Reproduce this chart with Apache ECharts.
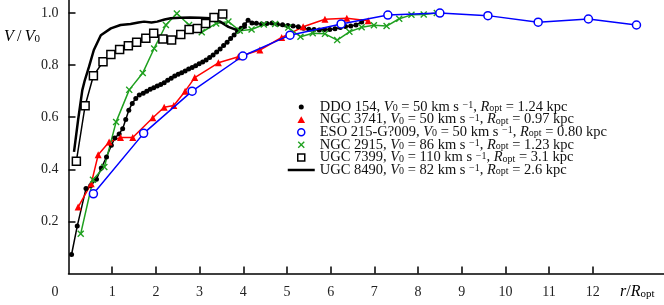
<!DOCTYPE html>
<html>
<head>
<meta charset="utf-8">
<script src="https://cdn.jsdelivr.net/npm/echarts@6/dist/echarts.min.js"></script>
<style>
html,body{margin:0;padding:0;background:#fff;}
#c{width:664px;height:305px;}
</style>
</head>
<body>
<div id="c"></div>
<script>
// ---- data (x = r/Ropt, y = V/V0) ----
const ddo154 = [[0.07,0.073],[0.2,0.182],[0.4,0.326],[0.51,0.338],[0.64,0.362],[0.75,0.405],[0.87,0.447],[0.98,0.492],[1.06,0.52],[1.16,0.536],[1.24,0.556],[1.31,0.591],[1.38,0.627],[1.46,0.653],[1.54,0.672],[1.62,0.685],[1.71,0.692],[1.79,0.7],[1.87,0.707],[1.95,0.713],[2.03,0.72],[2.11,0.726],[2.19,0.732],[2.27,0.742],[2.35,0.75],[2.43,0.758],[2.51,0.765],[2.59,0.771],[2.67,0.777],[2.75,0.785],[2.83,0.791],[2.91,0.798],[2.99,0.805],[3.07,0.812],[3.15,0.82],[3.23,0.829],[3.31,0.839],[3.39,0.85],[3.47,0.862],[3.55,0.875],[3.63,0.888],[3.71,0.902],[3.79,0.916],[3.87,0.93],[3.95,0.942],[4.03,0.955],[4.11,0.972],[4.2,0.962],[4.3,0.961],[4.42,0.958],[4.54,0.96],[4.66,0.962],[4.78,0.957],[4.9,0.955],[5.02,0.952],[5.14,0.95],[5.26,0.947],[5.38,0.942],[5.5,0.938],[5.62,0.937],[5.74,0.935],[5.86,0.937],[5.98,0.937],[6.1,0.94],[6.22,0.944],[6.34,0.948],[6.46,0.95],[6.58,0.954],[6.71,0.966]];
const ngc3741 = [[0.22,0.255],[0.52,0.345],[0.68,0.456],[0.93,0.505],[1.19,0.522],[1.47,0.522],[1.93,0.598],[2.19,0.638],[2.41,0.645],[2.67,0.7],[2.89,0.752],[3.43,0.809],[3.89,0.832],[4.38,0.858],[4.88,0.906],[5.37,0.947],[5.87,0.976],[6.37,0.98],[6.86,0.97]];
const eso215 = [[0.57,0.306],[1.72,0.538],[2.83,0.7],[3.99,0.835],[5.07,0.915],[6.24,0.958],[7.31,0.992],[8.5,1.0],[9.6,0.99],[10.75,0.965],[11.9,0.977],[13.0,0.954]];
const ngc2915 = [[0.28,0.153],[0.56,0.36],[0.82,0.409],[1.09,0.582],[1.39,0.705],[1.7,0.77],[1.96,0.864],[2.23,0.954],[2.48,0.998],[2.76,0.954],[3.05,0.926],[3.38,0.96],[3.66,0.967],[3.92,0.932],[4.19,0.937],[4.47,0.956],[4.73,0.958],[5.03,0.944],[5.31,0.909],[5.59,0.922],[5.87,0.92],[6.15,0.896],[6.43,0.928],[6.71,0.945],[6.99,0.953],[7.28,0.95],[7.57,0.978],[7.85,0.993],[8.13,0.994],[8.43,1.0]];
const ugc7399 = [[0.18,0.431],[0.38,0.644],[0.57,0.759],[0.79,0.813],[0.97,0.841],[1.17,0.86],[1.37,0.874],[1.56,0.888],[1.77,0.903],[1.95,0.922],[2.16,0.9],[2.36,0.896],[2.57,0.918],[2.76,0.937],[2.95,0.941],[3.14,0.96],[3.33,0.983],[3.53,0.996]];
const ugc8490 = [[0.126,0.467],[0.22,0.59],[0.316,0.704],[0.37,0.74],[0.47,0.794],[0.58,0.858],[0.74,0.915],[0.97,0.941],[1.19,0.954],[1.42,0.958],[1.6,0.964],[1.73,0.967],[1.9,0.964],[2.03,0.967],[2.2,0.975],[2.34,0.98],[2.55,0.982],[2.78,0.983],[3.0,0.982],[3.24,0.98],[3.47,0.967],[3.66,0.947],[3.81,0.937],[3.95,0.94],[4.08,0.946]];

const names = ['DDO 154','NGC 3741','ESO 215-G?009','NGC 2915','UGC 7399','UGC 8490'];
const v0s = ['50','50','50','86','110','82'];
const ropts = ['1.24','0.97','0.80','1.23','3.1','2.6'];
const xTicks = [1,2,3,4,5,6,7,8,9,10,11,12];
const xLabels = [0,1,2,3,4,5,6,7,8,9,10,11,12];
const yTicks = [0.2,0.4,0.6,0.8,1.0];

// ---- styling ----
const SERIF = 'Liberation Serif';
const TXT = '#111';
const RED = '#ff0000', BLUE = '#0000ff', GREEN = '#1fa01f', BLACK = '#000';
const crossPath = 'path://M0,1.4L1.4,0L5,3.6L8.6,0L10,1.4L6.4,5L10,8.6L8.6,10L5,6.4L1.4,10L0,8.6L3.6,5Z';

// legend icons drawn inside a fixed 27x8 frame (corner moves fix the frame)
const FR = 'M0,0M27,8';
const lgDot = 'path://' + FR + 'M16,4A2.5,2.5,0,1,1,11,4A2.5,2.5,0,1,1,16,4Z';
const lgTri = 'path://' + FR + 'M13.5,0.7L17.3,7.3L9.7,7.3Z';
const lgCirc = 'path://' + FR + 'M17,4A3.5,3.5,0,1,1,10,4A3.5,3.5,0,1,1,17,4Z';
const lgCross = 'path://' + FR + 'M10,1.48L10.98,0.5L13.5,3.02L16.02,0.5L17,1.48L14.48,4L17,6.52L16.02,7.5L13.5,4.98L10.98,7.5L10,6.52L12.52,4Z';
const lgSq = 'path://' + FR + 'M10,0.5L17,0.5L17,7.5L10,7.5Z';
const lgLine = 'path://' + FR + 'M0,2.75L27,2.75L27,5.25L0,5.25Z';

const FS = 14.5;
const rich = {
  n:{fontFamily:SERIF,fontSize:FS,lineHeight:13,color:TXT},
  i:{fontFamily:SERIF,fontSize:FS,lineHeight:13,color:TXT,fontStyle:'italic'},
  sb:{fontFamily:SERIF,fontSize:10,lineHeight:6,color:TXT,verticalAlign:'bottom'},
  sp:{fontFamily:SERIF,fontSize:10,lineHeight:6,color:TXT,verticalAlign:'top'}
};
const richAx = {
  n:{fontFamily:SERIF,fontSize:16,lineHeight:15,color:TXT},
  i:{fontFamily:SERIF,fontSize:16,lineHeight:15,color:TXT,fontStyle:'italic'},
  sb:{fontFamily:SERIF,fontSize:11,lineHeight:7,color:TXT,verticalAlign:'bottom'}
};
function legendText(name){
  const k = names.indexOf(name);
  return '{n|' + names[k] + ', }{i|V}{sb|0}{n| = ' + v0s[k] + ' km s }{sp|\u22121}{n|, }{i|R}{sb|opt}{n| = ' + ropts[k] + ' kpc}';
}
const legendData = [
  {name:names[0], icon:lgDot, itemStyle:{color:BLACK,borderWidth:0}},
  {name:names[1], icon:lgTri, itemStyle:{color:RED,borderWidth:0}},
  {name:names[2], icon:lgCirc, itemStyle:{color:'#fff',borderColor:BLUE,borderWidth:1.5}},
  {name:names[3], icon:lgCross, itemStyle:{color:GREEN,borderWidth:0}},
  {name:names[4], icon:lgSq, itemStyle:{color:'#fff',borderColor:BLACK,borderWidth:1.5}},
  {name:names[5], icon:lgLine, itemStyle:{color:BLACK,borderWidth:0}}
];

const chart = echarts.init(document.getElementById('c'), null, {renderer:'canvas'});
chart.setOption({
  animation:false,
  backgroundColor:'#fff',
  grid:{left:68.5,right:0,top:0,bottom:31.5,containLabel:false},
  legend:{
    show:true, selectedMode:false, orient:'vertical', align:'left', padding:0,
    left:287, top:99.5, itemGap:-2.4, itemWidth:27, itemHeight:8, symbolKeepAspect:true,
    data:legendData,
    formatter:legendText,
    textStyle:{fontFamily:SERIF,fontSize:FS,color:TXT,rich:rich}
  },
  xAxis:{
    type:'value', min:0, max:13.63,
    axisLine:{show:true,lineStyle:{color:BLACK,width:1.5}},
    axisTick:{show:true,inside:true,length:7,lineStyle:{color:BLACK,width:1.5},customValues:xTicks},
    axisLabel:{customValues:xLabels,margin:12,fontFamily:SERIF,fontSize:14,color:'#222',
      formatter:function(v){ return v===0 ? '{z|0}' : String(v); },
      rich:{z:{fontFamily:SERIF,fontSize:14,color:'#222',padding:[0,27,0,0]}}},
    splitLine:{show:false}
  },
  yAxis:{
    type:'value', min:0, max:1.05,
    axisLine:{show:true,lineStyle:{color:BLACK,width:1.5}},
    axisTick:{show:true,inside:true,length:7,lineStyle:{color:BLACK,width:1.5},customValues:yTicks},
    axisLabel:{customValues:yTicks,margin:10,fontFamily:SERIF,fontSize:14,color:'#222',
      formatter:function(v){ return v.toFixed(1); }},
    splitLine:{show:false}
  },
  graphic:[
    {type:'text', left:4, top:29, style:{text:'{i|V}{n|\u2009/\u2009}{i|V}{sb|0}', rich:richAx}},
    {type:'text', left:620, top:284, style:{text:'{i|r}{n|/}{i|R}{sb|opt}', rich:richAx}}
  ],
  series:[
    {name:names[0], type:'line', data:ddo154, symbol:'circle', symbolSize:5,
     itemStyle:{color:BLACK}, lineStyle:{color:BLACK,width:1.5}, z:3},
    {name:names[1], type:'line', data:ngc3741, symbol:'triangle', symbolSize:7,
     itemStyle:{color:RED}, lineStyle:{color:RED,width:1.5}, z:3},
    {name:names[2], type:'line', data:eso215, symbol:'circle', symbolSize:8,
     itemStyle:{color:'#fff',borderColor:BLUE,borderWidth:1.5}, lineStyle:{color:BLUE,width:1.5}, z:4},
    {name:names[3], type:'line', data:ngc2915, symbol:crossPath, symbolSize:7,
     itemStyle:{color:GREEN}, lineStyle:{color:GREEN,width:1.5}, z:3},
    {name:names[4], type:'line', data:ugc7399, symbol:'rect', symbolSize:8,
     itemStyle:{color:'#fff',borderColor:BLACK,borderWidth:1.5}, lineStyle:{color:BLACK,width:1.5}, z:4},
    {name:names[5], type:'line', data:ugc8490, symbol:'none',
     itemStyle:{color:BLACK}, lineStyle:{color:BLACK,width:2.5}, z:3}
  ]
});
</script>
</body>
</html>
